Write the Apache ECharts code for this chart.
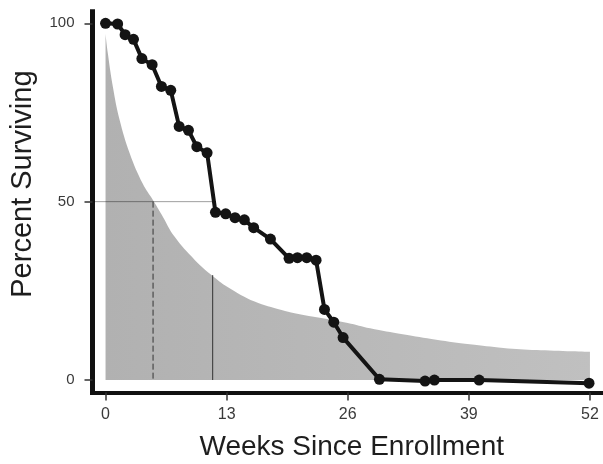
<!DOCTYPE html>
<html>
<head>
<meta charset="utf-8">
<script src="https://cdn.jsdelivr.net/npm/echarts@6/dist/echarts.min.js"></script>
<style>
html,body{margin:0;padding:0;background:#fff;}
#chart{width:603px;height:464px;}
</style>
</head>
<body>
<div id="chart"></div>
<script>
// Observed survival (Kaplan-Meier style) points: [week, percent]
var kmWeeks = [0, 1.3, 2.1, 3.0, 3.9, 5.0, 6.0, 7.0, 7.9, 8.9, 9.8, 10.9, 11.8, 12.9, 13.9, 14.9, 15.9, 17.7, 19.7, 20.6, 21.6, 22.6, 23.5, 24.5, 25.5, 29.4, 34.3, 35.3, 40.1, 51.9];
var kmPercent = [100, 99.8, 96.8, 95.5, 90.1, 88.4, 82.3, 81.2, 71.1, 70.0, 65.4, 63.7, 47.0, 46.6, 45.5, 44.9, 42.7, 39.5, 34.1, 34.3, 34.3, 33.6, 19.8, 16.2, 11.9, 0.2, -0.3, 0, 0, -0.9];

// Reference (shaded) survival curve: [week, percent]
var refWeeks = [0, 0.25, 0.8, 1.5, 2.6, 4.0, 5.1, 6.0, 7.4, 9.6, 11.4, 13.1, 16, 18.9, 20.3, 26, 28.4, 31.9, 35.5, 39.1, 42.7, 46.3, 52];
var refPercent = [97, 91.5, 82, 73, 63.5, 55, 50.4, 46.5, 40.2, 33.6, 29.4, 26.1, 22, 19.6, 18.7, 16, 14.5, 12.8, 11.3, 10, 9, 8.4, 7.9];

// Median guide lines
var medianLevel = 50;
var refMedianWeek = 5.1;
var kmMedianWeek = 11.5;
var kmMedianShadeTop = 29.4;

// Tick labels
var xTicks = [0, 13, 26, 39, 52];
var yTicks = [0, 50, 100];

function zip(a, b) { return a.map(function (v, i) { return [v, b[i]]; }); }

var FONT = 'Liberation Sans, Arial, Helvetica, sans-serif';
var chart = echarts.init(document.getElementById('chart'), null, {renderer: 'canvas'});

chart.setOption({
  animation: false,
  backgroundColor: '#ffffff',
  grid: {left: 92.5, right: 0, top: 11.7, bottom: 71.5, containLabel: false, outerBoundsMode: 'none'},
  xAxis: {
    type: 'value',
    min: -1.4, max: 53.4,
    name: 'Weeks Since Enrollment',
    nameLocation: 'middle',
    nameGap: 41,
    nameTextStyle: {fontFamily: FONT, fontSize: 28, color: '#1e1e1e', padding: [0, 0, 0, 8]},
    axisLine: {onZero: false, lineStyle: {color: '#111', width: 4}},
    axisTick: {show: true, inside: false, length: 8, customValues: xTicks, lineStyle: {color: '#333', width: 1.5}},
    axisLabel: {customValues: xTicks, margin: 14, fontFamily: FONT, fontSize: 16, color: '#3a3a3a'},
    splitLine: {show: false}
  },
  yAxis: {
    type: 'value',
    min: -3.5, max: 103.25,
    name: 'Percent Surviving',
    nameLocation: 'middle',
    nameGap: 55,
    nameTextStyle: {fontFamily: FONT, fontSize: 29, color: '#1e1e1e', padding: [0, 0, 0, 36]},
    axisLine: {onZero: false, lineStyle: {color: '#111', width: 5, cap: 'square'}},
    axisTick: {show: true, inside: false, length: 8, customValues: yTicks, lineStyle: {color: '#333', width: 1.5}},
    axisLabel: {customValues: yTicks, margin: 18, fontFamily: FONT, fontSize: 15, color: '#3a3a3a'},
    splitLine: {show: false}
  },
  series: [
    {
      type: 'line',
      data: zip(refWeeks, refPercent),
      smooth: 0.4,
      showSymbol: false,
      symbol: 'none',
      lineStyle: {width: 0, color: '#b8b8b8'},
      areaStyle: {
        origin: 'auto',
        opacity: 1,
        color: new echarts.graphic.LinearGradient(0, 0, 1, 0, [
          {offset: 0, color: '#b1b1b1'},
          {offset: 1, color: '#c0c0c0'}
        ])
      },
      z: 1,
      silent: true
    },
    {
      type: 'line',
      data: [[-1.2, medianLevel], [kmMedianWeek, medianLevel]],
      symbol: 'none',
      lineStyle: {width: 1, color: 'rgba(0,0,0,0.38)'},
      z: 2, silent: true
    },
    {
      type: 'line',
      data: [[refMedianWeek, medianLevel], [refMedianWeek, 0]],
      symbol: 'none',
      lineStyle: {width: 1, color: '#333', type: [6, 3]},
      z: 2, silent: true
    },
    {
      type: 'line',
      data: [[kmMedianWeek, kmMedianShadeTop], [kmMedianWeek, 0]],
      symbol: 'none',
      lineStyle: {width: 1, color: '#333'},
      z: 2, silent: true
    },
    {
      type: 'line',
      data: zip(kmWeeks, kmPercent),
      symbol: 'circle',
      symbolSize: 11,
      showSymbol: true,
      itemStyle: {color: '#141414'},
      lineStyle: {width: 4, color: '#141414'},
      z: 5, silent: true
    }
  ]
});
</script>
</body>
</html>
